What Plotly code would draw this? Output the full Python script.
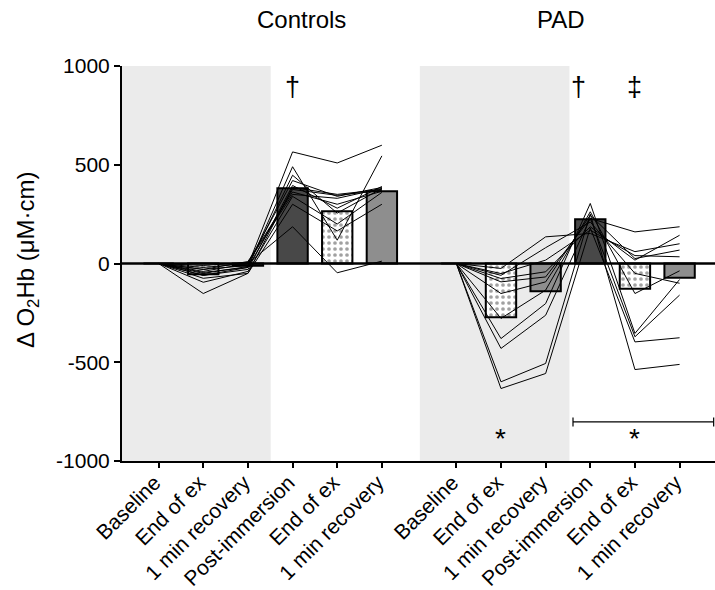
import plotly.graph_objects as go

# ---------------- data ----------------
phase_labels = ["Baseline", "End of ex", "1 min recovery",
                "Post-immersion", "End of ex", "1 min recovery"]
group_names = ["Controls", "PAD"]

controls_bar = [0, -55, -12, 381, 264, 366]
pad_bar = [0, -272, -140, 224, -128, -72]

controls_subjects = [
    [0, -30, -10, 565, 509, 599],
    [0, -60, -20, 490, 118, 545],
    [0, -50, -15, 447, 255, 380],
    [0, -40, 0, 420, 340, 385],
    [0, -75, -50, 385, 350, 375],
    [0, -45, -20, 375, 345, 370],
    [0, -30, 10, 362, 300, 366],
    [0, -95, -40, 340, 200, 360],
    [0, -152, -50, 300, 165, 300],
    [0, -20, 0, 186, -47, 12],
    [0, -60, -30, 395, 280, 390],
    [0, -10, 5, 350, 330, 380],
]

pad_subjects = [
    [0, -633, -557, 180, -397, -376],
    [0, -599, -506, 250, -537, -511],
    [0, -430, -262, 230, -371, -160],
    [0, -380, -203, 304, -354, -81],
    [0, -278, -135, 262, -152, -37],
    [0, -152, -93, 245, 25, 68],
    [0, -93, -68, 228, 160, 186],
    [0, -76, -42, 186, 17, 143],
    [0, -51, 17, 169, 40, 34],
    [0, -25, 135, 152, 60, 100],
    [0, -60, 80, 210, -50, -100],
]

# ---------------- layout helpers ----------------
FONT = "Liberation Sans, Arial, Helvetica, sans-serif"
offsets = [0, 6.667]
xs = [[1 + i + off for i in range(6)] for off in offsets]
XMIN, XMAX = 0.18, 13.46

fill_colors = ["white", "white", "#8e8e8e", "#484848", "white", "#8e8e8e"]
pattern_shapes = ["", ".", "", "", ".", ""]

fig = go.Figure()

for gx, bars in zip(xs, [controls_bar, pad_bar]):
    fig.add_trace(go.Bar(
        x=gx, y=bars, width=0.68,
        marker=dict(
            color=fill_colors,
            line=dict(color="black", width=2),
            pattern=dict(shape=pattern_shapes, fgcolor="black",
                         bgcolor="white", size=6, solidity=0.3),
        ),
        showlegend=False, hoverinfo="skip",
    ))

for gx, subjects in zip(xs, [controls_subjects, pad_subjects]):
    for s in subjects:
        fig.add_trace(go.Scatter(
            x=gx, y=s, mode="lines",
            line=dict(color="black", width=1),
            showlegend=False, hoverinfo="skip",
        ))

shapes = [
    dict(type="rect", xref="x", yref="y", x0=XMIN, x1=3.51, y0=-1000, y1=1000,
         fillcolor="#ebebeb", line=dict(width=0), layer="below"),
    dict(type="rect", xref="x", yref="y", x0=6.85, x1=10.2, y0=-1000, y1=1000,
         fillcolor="#ebebeb", line=dict(width=0), layer="below"),
    dict(type="line", xref="x", yref="y", x0=XMIN, x1=XMAX, y0=0, y1=0,
         line=dict(color="black", width=2.5), layer="above"),
    # bracket
    dict(type="line", xref="x", yref="y", x0=10.28, x1=13.43, y0=-802, y1=-802,
         line=dict(color="black", width=1.2)),
    dict(type="line", xref="x", yref="y", x0=10.28, x1=10.28, y0=-780, y1=-825,
         line=dict(color="black", width=1.2)),
    dict(type="line", xref="x", yref="y", x0=13.43, x1=13.43, y0=-780, y1=-825,
         line=dict(color="black", width=1.2)),
]

annotations = [
    dict(text="Controls", xref="paper", yref="paper", x=0.3035, y=1.118,
         xanchor="center", yanchor="middle", showarrow=False,
         font=dict(size=24, family=FONT, color="black")),
    dict(text="PAD", xref="paper", yref="paper", x=0.740, y=1.118,
         xanchor="center", yanchor="middle", showarrow=False,
         font=dict(size=24, family=FONT, color="black")),
    dict(text="Δ O<sub>2</sub>Hb (μM·cm)", xref="paper", yref="paper",
         x=-0.1585, y=0.509, textangle=-90, xanchor="center", yanchor="middle",
         showarrow=False, font=dict(size=24, family=FONT, color="black")),
    dict(text="†", xref="x", yref="y", x=4, y=895, showarrow=False,
         xanchor="center", yanchor="middle", font=dict(size=27, family=FONT, color="black")),
    dict(text="†", xref="x", yref="y", x=10.40, y=895, showarrow=False,
         xanchor="center", yanchor="middle", font=dict(size=27, family=FONT, color="black")),
    dict(text="‡", xref="x", yref="y", x=11.667, y=895, showarrow=False,
         xanchor="center", yanchor="middle", font=dict(size=27, family=FONT, color="black")),
    dict(text="*", xref="x", yref="y", x=8.667, y=-885, showarrow=False,
         xanchor="center", yanchor="middle", font=dict(size=28, family=FONT, color="black")),
    dict(text="*", xref="x", yref="y", x=11.667, y=-885, showarrow=False,
         xanchor="center", yanchor="middle", font=dict(size=28, family=FONT, color="black")),
]

fig.update_layout(
    width=715, height=590,
    margin=dict(l=122, r=0, t=66, b=129),
    paper_bgcolor="white", plot_bgcolor="white",
    font=dict(family=FONT, color="black"),
    shapes=shapes, annotations=annotations,
    barmode="overlay", showlegend=False,
    xaxis=dict(
        range=[XMIN, XMAX], showgrid=False, zeroline=False,
        showline=True, linecolor="black", linewidth=2,
        ticks="outside", ticklen=5, tickwidth=1.5, tickcolor="black",
        tickvals=xs[0] + xs[1], ticktext=phase_labels * 2,
        tickangle=-45, tickfont=dict(size=21, family=FONT, color="black"),
        ticklabelstandoff=-6, ticklabelshift=-4,
        automargin=False,
    ),
    yaxis=dict(
        range=[-1000, 1000], showgrid=False, zeroline=False,
        showline=True, linecolor="black", linewidth=2,
        ticks="outside", ticklen=6, tickwidth=1.5, tickcolor="black",
        tickvals=[-1000, -500, 0, 500, 1000],
        ticktext=["-1000", "-500", "0", "500", "1000"],
        tickfont=dict(size=21, family=FONT, color="black"),
        automargin=False,
    ),
)

fig.write_html("out.html", config={"displayModeBar": False},
               post_script="document.body.style.margin='0px';document.body.style.overflow='hidden';")
